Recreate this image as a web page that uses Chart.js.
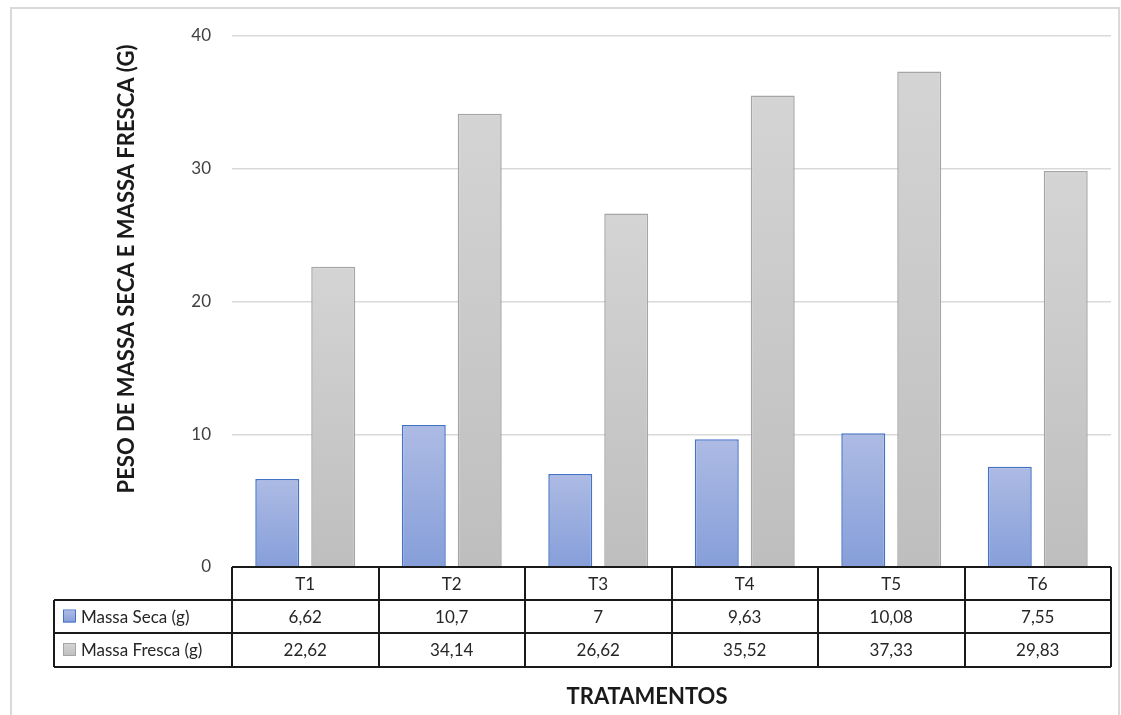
<!DOCTYPE html>
<html>
<head>
<meta charset="utf-8">
<script src="https://cdn.jsdelivr.net/npm/chart.js@4.4.1/dist/chart.umd.min.js"></script>
<style>
  html, body { margin: 0; padding: 0; background: #fff; }
  #wrap { position: relative; width: 1121px; height: 715px; }
</style>
</head>
<body>
<div id="wrap"><canvas id="c" width="1121" height="715"></canvas></div>
<script>
const categories = ['T1', 'T2', 'T3', 'T4', 'T5', 'T6']
const massaSeca = [6.62, 10.7, 7, 9.63, 10.08, 7.55]
const massaFresca = [22.62, 34.14, 26.62, 35.52, 37.33, 29.83]
const seriesNames = ['Massa Seca (g)', 'Massa Fresca (g)']
const yTicks = [0, 10, 20, 30, 40]

const FONT = 'Lato, "Open Sans", sans-serif'

const fmt = (v) => String(v).replace('.', ',')

function barGradient(top, bottom) {
  return (context) => {
    const chart = context.chart
    const y = chart.scales.y
    if (!chart.chartArea || !y || context.raw == null) return top
    const y0 = y.getPixelForValue(context.raw)
    const y1 = y.getPixelForValue(0)
    if (!isFinite(y0) || !isFinite(y1) || y0 === y1) return top
    const g = chart.ctx.createLinearGradient(0, y0, 0, y1)
    g.addColorStop(0, top)
    g.addColorStop(1, bottom)
    return g
  }
}

const fills = [
  { top: '#adbbe4', bottom: '#869ed9', border: '#4472c4' },
  { top: '#d4d4d4', bottom: '#bebebe', border: '#a5a5a5' },
]

const tablePlugin = {
  id: 'excelTable',
  beforeDraw(chart) {
    const ctx = chart.ctx
    ctx.save()
    ctx.fillStyle = '#fff'
    ctx.fillRect(0, 0, chart.width, chart.height)
    // outer chart frame
    ctx.strokeStyle = '#d9d9d9'
    ctx.lineWidth = 2
    ctx.strokeRect(11, 8, 1108, 720)
    ctx.restore()
  },
  afterDraw(chart) {
    const ctx = chart.ctx
    const x = chart.scales.x
    const area = chart.chartArea
    const colW = (area.right - area.left) / categories.length
    const rowTop = area.bottom
    const rowH = [33, 33, 34]
    const r0 = rowTop, r1 = r0 + rowH[0], r2 = r1 + rowH[1], r3 = r2 + rowH[2]
    const legendLeft = 54

    ctx.save()
    ctx.strokeStyle = '#1a1a1a'
    ctx.lineWidth = 2
    ctx.beginPath()
    // horizontal lines
    ctx.moveTo(area.left, r0); ctx.lineTo(area.right, r0)
    ctx.moveTo(legendLeft, r1); ctx.lineTo(area.right, r1)
    ctx.moveTo(legendLeft, r2); ctx.lineTo(area.right, r2)
    ctx.moveTo(legendLeft, r3); ctx.lineTo(area.right, r3)
    // vertical lines
    ctx.moveTo(legendLeft, r1); ctx.lineTo(legendLeft, r3)
    for (let i = 0; i <= categories.length; i++) {
      const cx = Math.round(area.left + i * colW)
      ctx.moveTo(cx, r0); ctx.lineTo(cx, r3)
    }
    ctx.stroke()

    ctx.fillStyle = '#262626'
    ctx.font = '17px ' + FONT
    ctx.textAlign = 'center'
    ctx.textBaseline = 'middle'
    const rows = [massaSeca, massaFresca]
    categories.forEach((c, i) => {
      const cx = x.getPixelForValue(i)
      ctx.fillText(c, cx, (r0 + r1) / 2 + 1)
      ctx.fillText(fmt(rows[0][i]), cx, (r1 + r2) / 2 + 1)
      ctx.fillText(fmt(rows[1][i]), cx, (r2 + r3) / 2 + 1)
    })

    // legend keys
    const rowMid = [(r1 + r2) / 2, (r2 + r3) / 2]
    seriesNames.forEach((name, k) => {
      const ym = rowMid[k]
      const g = ctx.createLinearGradient(0, ym - 6, 0, ym + 6)
      g.addColorStop(0, fills[k].top)
      g.addColorStop(1, fills[k].bottom)
      ctx.fillStyle = g
      ctx.fillRect(63, ym - 6, 12, 12)
      ctx.strokeStyle = fills[k].border
      ctx.lineWidth = 1
      ctx.strokeRect(63.5, ym - 6.5, 12, 12)
      ctx.fillStyle = '#262626'
      ctx.textAlign = 'left'
      ctx.fillText(name, 81, ym + 1)
    })

    // axis titles
    ctx.fillStyle = '#1a1a1a'
    ctx.font = 'bold 22px ' + FONT
    ctx.textAlign = 'center'
    ctx.fillText('TRATAMENTOS', 647, 697)
    ctx.translate(127, 269)
    ctx.rotate(-Math.PI / 2)
    ctx.fillText('PESO DE MASSA SECA E MASSA FRESCA (G)', 0, 0)
    ctx.restore()
  },
}

new Chart(document.getElementById('c'), {
  type: 'bar',
  data: {
    labels: categories,
    datasets: [
      {
        label: seriesNames[0],
        data: massaSeca,
        backgroundColor: barGradient(fills[0].top, fills[0].bottom),
        borderColor: fills[0].border,
        borderWidth: 1.5,
        borderSkipped: 'bottom',
      },
      {
        label: seriesNames[1],
        data: massaFresca,
        backgroundColor: barGradient(fills[1].top, fills[1].bottom),
        borderColor: fills[1].border,
        borderWidth: 1.5,
        borderSkipped: 'bottom',
      },
    ],
  },
  options: {
    responsive: false,
    animation: false,
    events: [],
    datasets: {
      bar: { categoryPercentage: 0.764, barPercentage: 0.786 },
    },
    layout: { padding: { left: 162, right: 10, top: 36, bottom: 148 } },
    scales: {
      x: { display: false },
      y: {
        min: 0,
        max: 40,
        afterFit: (s) => { s.width = 70 },
        afterBuildTicks: (s) => { s.ticks = yTicks.map((v) => ({ value: v })) },
        border: { display: false },
        grid: { color: '#d9d9d9', lineWidth: 1.5, drawTicks: false },
        ticks: {
          padding: 21,
          color: '#404040',
          font: { family: FONT, size: 17 },
        },
      },
    },
    plugins: {
      legend: { display: false },
      tooltip: { enabled: false },
    },
  },
  plugins: [tablePlugin],
})
</script>
</body>
</html>
